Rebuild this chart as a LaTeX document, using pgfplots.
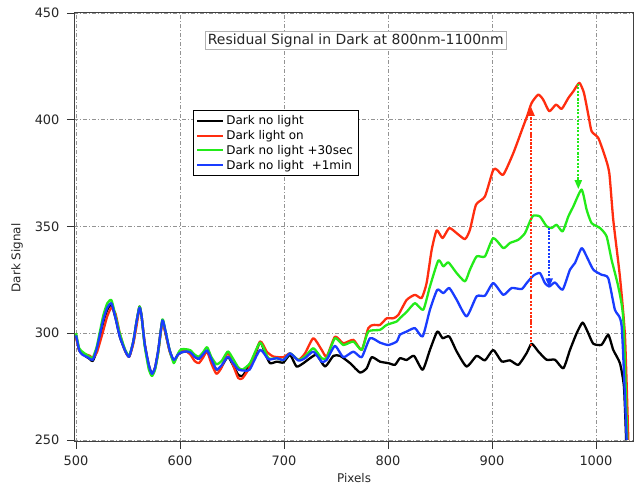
\documentclass[border=0pt]{standalone}
\usepackage{fontspec}
\setmainfont{DejaVu Sans}
\usepackage{pgfplots}
\pgfplotsset{compat=1.18}
\usetikzlibrary{arrows.meta}
\definecolor{cblack}{RGB}{0,0,0}
\definecolor{cred}{RGB}{255,45,15}
\definecolor{cgreen}{RGB}{35,235,25}
\definecolor{cblue}{RGB}{25,60,255}
\begin{document}
\begin{tikzpicture}
\begin{axis}[
 scale only axis, width=559bp, height=429.7bp,
 xmin=498, xmax=1035.6, ymin=249.2, ymax=450.5,
 xtick={500,600,...,1000}, ytick={250,300,...,450},
 grid=major,
 grid style={gray!85, line width=0.7bp, dash pattern=on 4bp off 2bp on 1bp off 2bp},
 axis line style={black!75, line width=0.9bp},
 tick align=outside, xtick pos=bottom, ytick pos=left,
 major tick length=7bp,
 tick style={black!80, line width=0.8bp},
 /pgf/number format/assume math mode=true,
 /pgf/number format/1000 sep={},
 ticklabel style={font=\fontsize{13}{15}\selectfont, text=black!85},
 xticklabel style={yshift=-4bp},
 yticklabel style={xshift=-4bp},
 xlabel={Pixels}, ylabel={Dark Signal},
 xlabel style={at={(axis description cs:0.501,-0.0845)}, anchor=center, font=\fontsize{12}{14}\selectfont, text=black!85},
 ylabel style={at={(axis description cs:-0.102,0.4275)}, anchor=center, font=\fontsize{12}{14}\selectfont, text=black!85},
 legend style={at={(axis description cs:0.213,0.772)}, anchor=north west, draw=black, line width=0.8bp, fill=white,
   font=\fontsize{12}{14.5}\selectfont, inner xsep=3bp, inner ysep=3bp, row sep=0.3bp, cells={anchor=west}},
 legend image code/.code={\draw[#1, line width=2bp] (0bp,0bp) -- (26bp,0bp);},
 every axis plot/.append style={line width=2.3bp, line join=round, smooth, tension=0.35},
]
\addplot[cblack] coordinates {
(500,299)(503,292)(507,290)(513,288)(516,287)(520,292)(526,305)(530,311)(534,313.5)(538,307)(542,298.5)(547,292)(551,289)(555,296)(558,305)(561,312.5)(563,308)(566,295)(570,285)(573,281)(576,284)(579,292)(583,306)(586,300)(590,292)(594,287)(598,290)(601,291)(606,291.5)(610,290.5)(614,289)(618,288)(622,289.5)(626,291.5)(630,287.5)(635,283)(640,284.5)(646,289)(651,285)(656,280.5)(660,280)(664,282.8)(670.5,287.5)(677,296)(681.7,290.6)(686.5,286)(693,286.7)(699.4,286.3)(705.8,289.9)(712,284.4)(718.6,286)(725,288.3)(731.4,289.9)(739.4,284.4)(747.4,289.4)(753.9,289.4)(763.5,286)(773,281.6)(779.5,283.6)(784.3,288.8)(792.3,286.7)(800.3,286)(806.7,285.2)(811.5,288.3)(817.9,287.5)(825,289.4)(833.3,282.9)(840.3,292.2)(847.4,300.8)(852.5,297.7)(858.9,298.5)(866,291.5)(875.6,284.4)(885.2,289.4)(893.2,287.3)(901.2,292.2)(909.3,286.8)(917.3,287.3)(925.3,285.2)(933.3,290.7)(938.1,295.1)(944.5,291.5)(952.5,287.6)(960.6,287.6)(968.6,283.6)(975,292.2)(981.4,300)(987.2,305)(992.6,300)(997.4,295.1)(1005.4,294.6)(1011.8,299.3)(1016.6,292.2)(1023,286)(1026.9,275)(1029,250)
};
\addlegendentry{Dark no light}
\addplot[cred] coordinates {
(500,298)(503,292)(507,290.5)(513,289.5)(516,288.5)(520,291)(526,301)(530,308)(534,312)(538,309)(542,300)(547,292)(551,289)(555,295)(558,303)(561,311.5)(563,308)(566,295)(570,284)(573,280.5)(576,283.5)(579,291)(583,305)(586,300)(590,291.5)(594,287)(598,290)(601,291.5)(606,291.5)(610,290)(614,287)(618,286)(622,288.5)(626,291.5)(630,286)(635,281)(640,284)(646,291)(651,285)(656,279)(660,278.9)(667.3,284.4)(677,296.1)(683.3,291.4)(689.8,289.1)(699.4,288.8)(705.8,290.6)(713.8,287.5)(720.2,290.6)(728.2,297.7)(736.2,292.2)(741,289.1)(749,298.4)(757,295.3)(766.7,296.9)(774.7,292.2)(781,302.4)(785.9,303.9)(792.3,303.9)(798.7,307)(805.1,307)(809.9,308.6)(817.9,315.6)(825.9,318)(832.3,316.5)(837.1,323.5)(842,339.1)(846.8,348.2)(852.5,344.6)(858.9,349.3)(866,346.9)(874,344.1)(878.8,348.5)(884.6,360.2)(893.2,364.1)(901.2,376.6)(905,376.5)(910.9,374.3)(920.5,384.4)(930.1,397)(934,402)(938.1,407.9)(944.5,411.8)(949.3,409.4)(955.1,404)(961.5,407.1)(967,405.1)(973.4,410.2)(978.2,413.3)(984,417.3)(988.4,412.6)(992.6,402.4)(995.8,394.6)(1002.2,391.5)(1008.6,382.9)(1012.8,375.1)(1016.6,353.2)(1023,326.6)(1027.9,298.5)(1031.1,250)
};
\addlegendentry{Dark light on}
\addplot[cgreen] coordinates {
(500,300)(503,293)(507,291)(513,289)(516,288.5)(520,294)(526,308)(530,314)(534,315.5)(538,308)(542,300)(547,292.5)(551,289.5)(555,296)(558,305)(561,312.5)(563,308)(566,294)(570,283)(573,280)(576,283)(579,291)(583,306.5)(586,301)(590,292)(594,286)(598,290.5)(601,292.5)(606,292.5)(610,292)(614,290)(618,289)(622,291)(626,293.5)(630,289)(635,285.5)(640,287)(646,291.5)(651,288)(656,284)(660,283)(667.3,286)(677,295.6)(685,288.3)(693,288.3)(699.4,287.5)(705.8,290.6)(713.8,287.5)(720.2,289.1)(728.2,293)(736.2,288.3)(741,288.5)(749,297.7)(757,294.5)(766.7,296.1)(774.7,292.2)(781,300.8)(792.3,301.6)(798.7,303.9)(808.3,305.5)(811.5,307.1)(817.9,310)(825.9,314.1)(833.9,311)(840.3,321.9)(848.4,334.1)(853.2,331.3)(858,333.2)(866,328.2)(874,324.3)(878.8,329.8)(885.2,336)(893.2,336)(901.2,344.6)(910.9,339.9)(917.3,342.3)(925.3,343.8)(931.7,346.9)(936.5,352.4)(939.7,355.1)(946.1,354.7)(952.5,350.1)(957.3,349.3)(962.2,350.8)(967.9,347.7)(973.4,354.7)(978.2,359.4)(986.2,367.3)(991,357.9)(995.8,351.6)(1003.8,349.3)(1010.2,345.4)(1015,334.4)(1021.4,321.9)(1026.3,306.3)(1030.1,250)
};
\addlegendentry{Dark no light +30sec}
\addplot[cblue] coordinates {
(500,299)(503,292)(506,290)(512,288.5)(516,287.5)(520,293)(526,306)(530,312)(534,314)(538,307)(542,298.5)(547,292)(551,289)(555,296)(558,305)(561,312)(563,308)(566,295)(570,285)(573,281)(576,284)(579,292)(583,306)(586,301)(590,292)(594,287.5)(598,290)(601,291)(606,291.5)(610,291)(614,289)(618,288)(622,290)(626,292)(630,288)(635,283)(640,285)(646,289)(651,286)(656,283)(662,282.5)(667,283)(677,292.2)(685,287.8)(693,288.3)(699.4,287.5)(705.8,290.6)(713.8,287.2)(720.2,288.3)(728.2,291.4)(736.2,286.7)(741,287.5)(749,294.1)(757,288.8)(766.7,291.4)(774.7,288.8)(782.7,297.7)(792.3,295.6)(800.3,294.5)(808.3,296.1)(811.5,299.3)(817.9,300.8)(825.9,302.4)(833.3,298.5)(840.3,311)(847.4,320.4)(853.2,318.8)(858.9,321.2)(866,315.7)(875.6,307.9)(885.2,317.3)(893.2,317.6)(901.2,323.5)(910.9,318)(918.9,321.2)(928.5,320.7)(933.3,323.5)(939.7,327)(946.1,328.2)(950.9,323.5)(955.1,321.9)(960.6,323.8)(967.9,320.4)(975,329.8)(979.8,332.9)(986.2,339.9)(991,336)(997.4,329.8)(1005.4,327.4)(1011.8,325.8)(1018.2,311)(1024.7,303.2)(1029.5,250)
};
\addlegendentry{Dark no light\hspace{8bp}+1min}
\addplot[forget plot, cred, line width=2bp, dash pattern=on 2bp off 1.6bp, -{Triangle[length=9bp,width=7bp]}] coordinates {(937.6,294) (937.6,406)};
\addplot[forget plot, cgreen, line width=2bp, dash pattern=on 2bp off 1.6bp, -{Triangle[length=9bp,width=7bp]}] coordinates {(983,417) (983,367.5)};
\addplot[forget plot, cblue, line width=2bp, dash pattern=on 2bp off 1.6bp, -{Triangle[length=9bp,width=7bp]}] coordinates {(955,349.5) (955,321.5)};
\node[draw=gray!60, line width=0.6bp, fill=white, inner sep=2.5bp, font=\fontsize{14}{16}\selectfont, text=black!85] at (axis description cs:0.504,0.934) {Residual Signal in Dark at 800nm-1100nm};
\end{axis}
\pgfresetboundingbox
\path[use as bounding box] ([shift={(-74bp,-49.3bp)}]current axis.south west) rectangle ([shift={(1bp,12bp)}]current axis.north east);
\end{tikzpicture}
\end{document}
